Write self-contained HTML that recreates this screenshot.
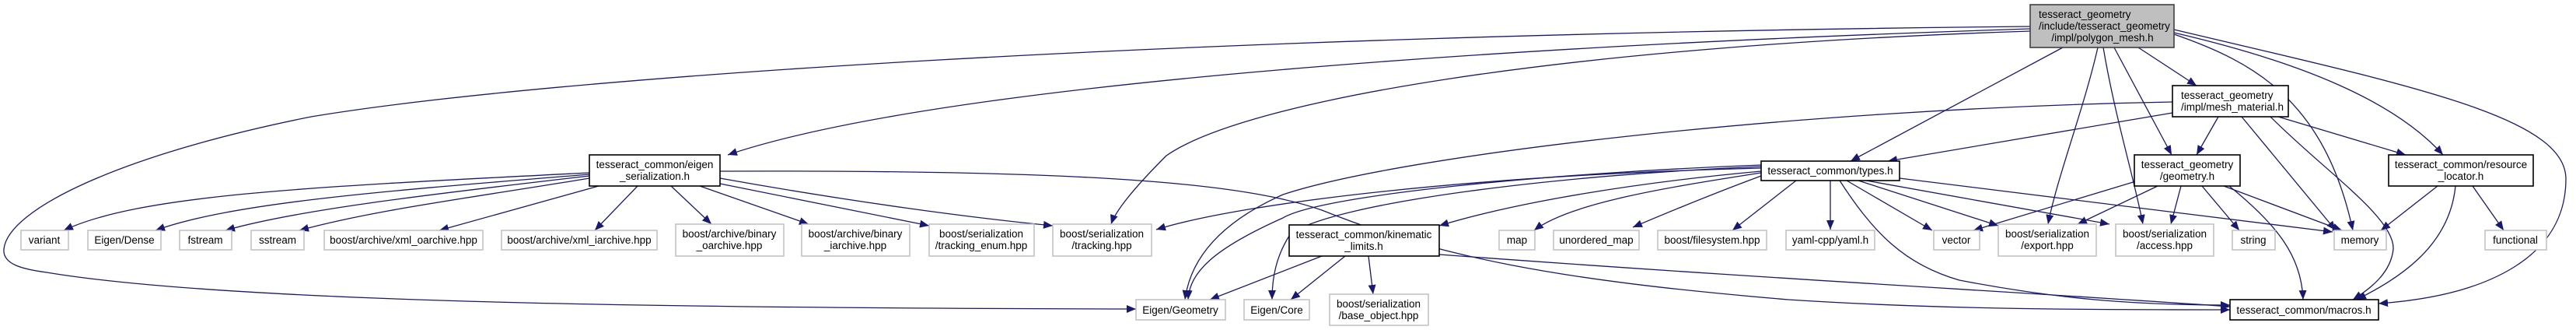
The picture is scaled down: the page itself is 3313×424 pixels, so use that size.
<!DOCTYPE html>
<html><head><meta charset="utf-8"><style>
html,body{margin:0;padding:0;background:#fff;}
svg{display:block;}
text{font-family:"Liberation Sans",Arial,sans-serif;font-size:13.5px;fill:#000;}
.l{fill:#fff;stroke:#bfbfbf;stroke-width:1.5}
.n{fill:#fff;stroke:#000;stroke-width:1.6}
.e{fill:none;stroke:#191970;stroke-width:1.3;marker-end:url(#a)}
</style></head><body>
<svg width="3313" height="424" viewBox="0 0 3313 424" xmlns="http://www.w3.org/2000/svg">
<defs><marker id="a" markerUnits="userSpaceOnUse" markerWidth="14" markerHeight="12" refX="12" refY="5" orient="auto"><path d="M0,0 L12,5 L0,10 Z" fill="#191970"/></marker></defs>
<g>
<!-- root edges -->
<path class="e" d="M2611,37 C1900,60 1200,110 936,199"/>
<path class="e" d="M2611,34 C1500,45 700,100 400,150 C150,200 10,270 5,320 C3,340 30,346 60,350 C300,390 900,396 1461,397"/>
<path class="e" d="M2611,40 C2000,60 1600,130 1500,200 C1460,240 1435,270 1429,288"/>
<path class="e" d="M2653,61 L2380,207"/>
<path class="e" d="M2698,61 C2680,140 2645,230 2634,288"/>
<path class="e" d="M2705,61 C2720,150 2745,230 2756,288"/>
<path class="e" d="M2719,61 L2793,199"/>
<path class="e" d="M2750,61 L2825,110"/>
<path class="e" d="M2796,44 C2900,80 2990,130 3026,296"/>
<path class="e" d="M2796,42 C2960,80 3080,130 3142,199"/>
<path class="e" d="M2796,38 C3100,110 3300,150 3300,230 C3300,330 3200,380 3059,390"/>
<!-- mesh_material edges -->
<path class="e" d="M2794,131 C2300,140 1800,200 1650,250 C1560,290 1530,340 1524,385"/>
<path class="e" d="M2794,145 L2428,207"/>
<path class="e" d="M2853,150 L2825,199"/>
<path class="e" d="M2930,150 L3094,199"/>
<path class="e" d="M2883,150 L3004,296"/>
<path class="e" d="M2920,150 C2990,220 3080,280 3078,320 C3075,350 3050,370 3026,385"/>
<!-- geometry edges -->
<path class="e" d="M2750,232 L2538,296"/>
<path class="e" d="M2775,239 L2672,288"/>
<path class="e" d="M2805,239 L2792,288"/>
<path class="e" d="M2832,239 L2880,296"/>
<path class="e" d="M2860,239 L3012,296"/>
<path class="e" d="M2867,239 C2930,290 2960,330 2962,385"/>
<!-- resource locator -->
<path class="e" d="M3135,239 L3062,296"/>
<path class="e" d="M3158,239 C3150,320 3080,360 3031,385"/>
<path class="e" d="M3180,239 L3220,296"/>
<!-- types edges -->
<path class="e" d="M2265,216 C1900,225 1600,260 1487,295"/>
<path class="e" d="M2265,220 C2100,235 1950,260 1851,290"/>
<path class="e" d="M2265,222 C2150,240 2020,260 1973,296"/>
<path class="e" d="M2265,226 C2200,250 2140,275 2100,292"/>
<path class="e" d="M2310,232 L2228,296"/>
<path class="e" d="M2354,232 L2354,295"/>
<path class="e" d="M2375,232 L2485,296"/>
<path class="e" d="M2390,232 L2570,290"/>
<path class="e" d="M2400,232 L2713,288"/>
<path class="e" d="M2443,229 L3000,298"/>
<path class="e" d="M2366,232 C2410,300 2450,340 2520,360 C2650,385 2750,392 2868,392"/>
<path class="e" d="M2265,212 C2000,222 1700,250 1650,280 C1560,320 1530,350 1528,385"/>
<path class="e" d="M2265,214 C2000,225 1720,260 1660,300 C1640,330 1636,360 1636,385"/>
<!-- eigen_serialization edges -->
<path class="e" d="M758,222 C400,240 180,250 82,296"/>
<path class="e" d="M758,224 C500,245 300,260 200,296"/>
<path class="e" d="M758,226 C550,250 380,270 290,296"/>
<path class="e" d="M758,229 C600,255 480,270 385,296"/>
<path class="e" d="M770,239 L565,296"/>
<path class="e" d="M820,239 L765,296"/>
<path class="e" d="M863,239 L915,288"/>
<path class="e" d="M900,239 L1040,288"/>
<path class="e" d="M926,236 L1195,290"/>
<path class="e" d="M926,229 C1100,260 1250,280 1354,290"/>
<path class="e" d="M926,220 C1400,218 1600,235 1700,270 C1850,330 2000,360 2300,385 C2500,398 2700,398 2868,398"/>
<!-- kinematic limits -->
<path class="e" d="M1700,329 L1556,385"/>
<path class="e" d="M1730,329 L1660,385"/>
<path class="e" d="M1760,329 L1766,378"/>
<path class="e" d="M1851,327 C2300,360 2600,375 2868,394"/>
</g>
<!-- nodes -->
<rect x="2611" y="6" width="185" height="55" fill="#bfbfbf" stroke="#404040" stroke-width="1.6"/>
<text x="2622" y="23">tesseract_geometry</text>
<text x="2622" y="38">/include/tesseract_geometry</text>
<text x="2704" y="53" text-anchor="middle">/impl/polygon_mesh.h</text>

<rect class="n" x="2794" y="110" width="149" height="40"/>
<text x="2805" y="127">tesseract_geometry</text>
<text x="2805" y="142">/impl/mesh_material.h</text>

<rect class="n" x="758" y="199" width="168" height="40"/>
<text x="842" y="216" text-anchor="middle">tesseract_common/eigen</text>
<text x="842" y="231" text-anchor="middle">_serialization.h</text>

<rect class="n" x="2265" y="207" width="178" height="25"/>
<text x="2354" y="224" text-anchor="middle">tesseract_common/types.h</text>

<rect class="n" x="2745" y="199" width="136" height="40"/>
<text x="2813" y="216" text-anchor="middle">tesseract_geometry</text>
<text x="2813" y="231" text-anchor="middle">/geometry.h</text>

<rect class="n" x="3072" y="199" width="186" height="40"/>
<text x="3165" y="216" text-anchor="middle">tesseract_common/resource</text>
<text x="3165" y="231" text-anchor="middle">_locator.h</text>

<rect class="n" x="1658" y="289" width="193" height="40"/>
<text x="1754" y="306" text-anchor="middle">tesseract_common/kinematic</text>
<text x="1754" y="321" text-anchor="middle">_limits.h</text>

<rect class="n" x="2868" y="385" width="191" height="26"/>
<text x="2963" y="403" text-anchor="middle">tesseract_common/macros.h</text>

<g>
<rect class="l" x="27" y="296" width="61" height="25"/><text x="57" y="313" text-anchor="middle">variant</text>
<rect class="l" x="113" y="296" width="94" height="25"/><text x="160" y="313" text-anchor="middle">Eigen/Dense</text>
<rect class="l" x="231" y="296" width="67" height="25"/><text x="264" y="313" text-anchor="middle">fstream</text>
<rect class="l" x="323" y="296" width="68" height="25"/><text x="357" y="313" text-anchor="middle">sstream</text>
<rect class="l" x="417" y="296" width="204" height="25"/><text x="519" y="313" text-anchor="middle">boost/archive/xml_oarchive.hpp</text>
<rect class="l" x="645" y="296" width="200" height="25"/><text x="745" y="313" text-anchor="middle">boost/archive/xml_iarchive.hpp</text>
<rect class="l" x="869" y="288" width="139" height="41"/><text x="938" y="305" text-anchor="middle">boost/archive/binary</text><text x="938" y="320" text-anchor="middle">_oarchive.hpp</text>
<rect class="l" x="1031" y="288" width="139" height="41"/><text x="1100" y="305" text-anchor="middle">boost/archive/binary</text><text x="1100" y="320" text-anchor="middle">_iarchive.hpp</text>
<rect class="l" x="1195" y="288" width="135" height="41"/><text x="1262" y="305" text-anchor="middle">boost/serialization</text><text x="1262" y="320" text-anchor="middle">/tracking_enum.hpp</text>
<rect class="l" x="1354" y="288" width="127" height="41"/><text x="1417" y="305" text-anchor="middle">boost/serialization</text><text x="1417" y="320" text-anchor="middle">/tracking.hpp</text>
<rect class="l" x="1928" y="296" width="46" height="25"/><text x="1951" y="313" text-anchor="middle">map</text>
<rect class="l" x="1998" y="296" width="110" height="25"/><text x="2053" y="313" text-anchor="middle">unordered_map</text>
<rect class="l" x="2132" y="296" width="140" height="25"/><text x="2202" y="313" text-anchor="middle">boost/filesystem.hpp</text>
<rect class="l" x="2297" y="296" width="114" height="25"/><text x="2354" y="313" text-anchor="middle">yaml-cpp/yaml.h</text>
<rect class="l" x="2487" y="296" width="59" height="25"/><text x="2516" y="313" text-anchor="middle">vector</text>
<rect class="l" x="2570" y="288" width="126" height="41"/><text x="2633" y="305" text-anchor="middle">boost/serialization</text><text x="2633" y="320" text-anchor="middle">/export.hpp</text>
<rect class="l" x="2721" y="288" width="126" height="41"/><text x="2784" y="305" text-anchor="middle">boost/serialization</text><text x="2784" y="320" text-anchor="middle">/access.hpp</text>
<rect class="l" x="2871" y="296" width="55" height="25"/><text x="2898" y="313" text-anchor="middle">string</text>
<rect class="l" x="3002" y="296" width="67" height="25"/><text x="3035" y="313" text-anchor="middle">memory</text>
<rect class="l" x="3196" y="296" width="79" height="25"/><text x="3235" y="313" text-anchor="middle">functional</text>
<rect class="l" x="1461" y="385" width="115" height="26"/><text x="1518" y="403" text-anchor="middle">Eigen/Geometry</text>
<rect class="l" x="1600" y="385" width="84" height="26"/><text x="1642" y="403" text-anchor="middle">Eigen/Core</text>
<rect class="l" x="1710" y="378" width="127" height="40"/><text x="1773" y="395" text-anchor="middle">boost/serialization</text><text x="1773" y="410" text-anchor="middle">/base_object.hpp</text>
</g>
</svg>
</body></html>
